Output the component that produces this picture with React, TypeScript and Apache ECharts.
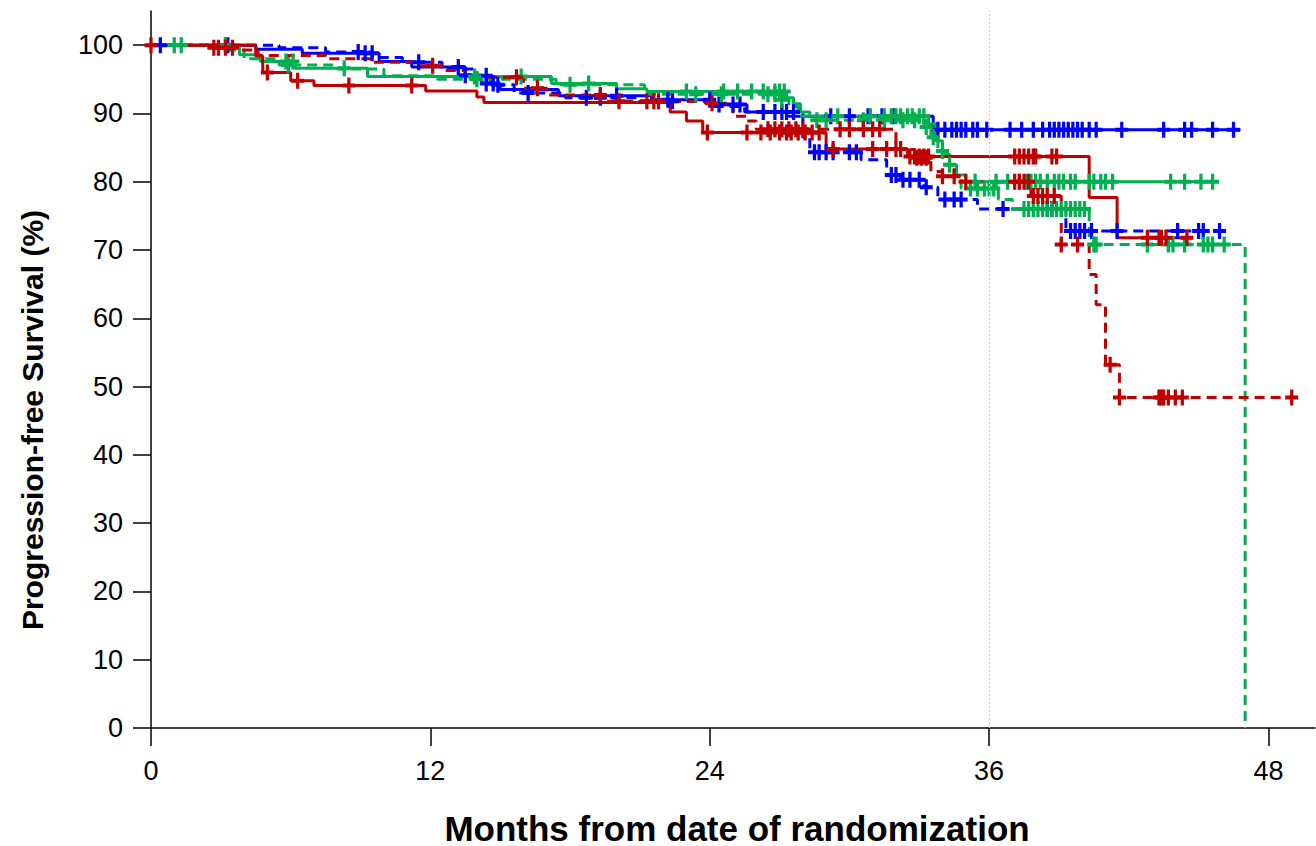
import React, { useEffect, useRef } from "react";
import * as echarts from "echarts";

const xTicks = [0, 12, 24, 36, 48];
const yTicks = [0, 10, 20, 30, 40, 50, 60, 70, 80, 90, 100];
const xTitle = "Months from date of randomization";
const yTitle = "Progression-free Survival (%)";

// Blue solid
const blueSolidTimes = [0, 4.5, 6.5, 9.8, 11.2, 13.5, 14.2, 15.0, 17.5, 21.5, 24.2, 25.6, 27.3, 33.6];
const blueSolidSurv = [100, 99.4, 98.8, 97.6, 96.8, 95.6, 94.4, 93.5, 92.6, 92.0, 91.3, 90.2, 89.6, 87.6];
const blueSolidEnd = 46.8;
const blueSolidCensor = [0.4, 3.3, 9.2, 9.5, 13.2, 13.5, 14.4, 14.7, 20.0, 22.2, 24.0, 24.4, 25.0, 25.3, 26.3, 26.8, 27.1, 29.2, 30.0, 30.8, 31.4, 31.9, 33.8, 34.1, 34.4, 34.6, 34.8, 35.0, 35.3, 35.5, 35.9, 36.9, 37.4, 37.9, 38.3, 38.6, 38.8, 39.0, 39.2, 39.4, 39.6, 39.8, 40.0, 40.3, 40.6, 41.7, 43.5, 44.4, 44.7, 45.6, 46.5];

// Blue dashed
const blueDashTimes = [0, 5.5, 7.5, 9.5, 10.8, 12.5, 14.0, 14.6, 15.6, 17.8, 21.0, 24.0, 25.5, 28.0, 28.3, 30.5, 31.6, 32.2, 33.2, 33.8, 35.5, 39.3];
const blueDashSurv = [100, 99.6, 99.0, 98.2, 97.5, 96.5, 95.5, 94.2, 93.0, 92.3, 91.8, 91.0, 90.2, 86.5, 84.3, 83.2, 81.0, 80.3, 79.2, 77.4, 76.0, 72.8];
const blueDashEnd = 46.2;
const blueDashCensor = [3.2, 8.9, 11.5, 14.4, 14.9, 16.2, 18.7, 19.3, 22.4, 27.3, 27.6, 28.5, 28.7, 29.0, 29.3, 30.0, 30.3, 31.8, 32.0, 32.3, 32.6, 33.0, 33.3, 34.1, 34.5, 34.8, 36.6, 38.5, 38.7, 39.5, 39.7, 39.9, 40.1, 40.4, 41.5, 44.1, 45.0, 45.2, 45.9];

// Green solid
const greenSolidTimes = [0, 3.8, 4.7, 6.2, 9.3, 17.2, 20.0, 21.3, 27.3, 27.6, 27.9, 28.3, 33.4, 33.7, 34.0, 34.3, 34.6, 35.0];
const greenSolidSurv = [100, 98.6, 97.6, 96.6, 95.4, 94.4, 93.6, 93.2, 92.3, 91.4, 90.2, 89.6, 88.5, 86.0, 84.0, 82.5, 81.0, 80.0];
const greenSolidEnd = 45.8;
const greenSolidCensor = [1.3, 3.2, 5.8, 6.1, 8.3, 13.9, 15.9, 18.8, 23.0, 24.6, 25.2, 25.8, 26.3, 26.8, 27.0, 27.2, 29.5, 30.9, 31.5, 31.8, 32.0, 32.2, 32.5, 32.7, 33.0, 33.2, 35.4, 36.3, 36.8, 37.3, 37.6, 37.8, 38.0, 38.2, 38.5, 38.8, 39.0, 39.2, 39.5, 39.7, 40.3, 40.5, 40.8, 41.0, 41.3, 43.8, 44.4, 45.1, 45.6];

// Green dashed
const greenDashTimes = [0, 3.0, 4.0, 5.5, 8.0, 10.0, 12.3, 17.4, 21.2, 27.0, 27.4, 27.8, 28.4, 33.2, 33.5, 33.8, 34.1, 34.5, 34.8, 36.4, 37.0, 40.3, 47.0];
const greenDashSurv = [100, 99.3, 98.0, 97.1, 96.5, 95.5, 95.0, 94.2, 92.8, 92.0, 91.0, 89.6, 89.0, 88.0, 86.5, 84.5, 82.5, 80.5, 79.0, 77.4, 76.0, 70.8, 0];
const greenDashEnd = 47.0;
const greenDashCensor = [1.0, 5.9, 14.0, 18.0, 23.4, 24.5, 26.5, 26.8, 27.1, 28.6, 29.0, 30.6, 31.5, 32.3, 32.8, 33.3, 33.6, 34.0, 34.3, 35.2, 35.5, 35.8, 36.0, 36.2, 37.5, 37.7, 37.9, 38.1, 38.3, 38.5, 38.7, 38.9, 39.1, 39.3, 39.5, 39.7, 39.9, 40.1, 40.5, 40.6, 42.8, 43.7, 43.9, 44.4, 45.2, 45.4, 45.6, 46.1];

// Red solid
const redSolidTimes = [0, 4.5, 4.8, 6.0, 7.0, 11.8, 14.0, 14.3, 22.3, 23.0, 23.7, 29.0, 32.5, 40.3, 41.5];
const redSolidSurv = [100, 98.4, 96.0, 94.8, 94.1, 93.3, 92.4, 91.6, 90.2, 88.9, 87.2, 84.8, 83.7, 77.7, 71.8];
const redSolidEnd = 44.7;
const redSolidCensor = [5.0, 6.3, 8.5, 11.2, 23.9, 25.6, 26.2, 26.6, 27.0, 27.3, 27.5, 27.8, 28.1, 28.4, 28.7, 29.3, 31.0, 31.6, 32.0, 32.2, 32.6, 32.8, 33.0, 33.2, 33.4, 37.1, 37.3, 37.5, 37.7, 37.9, 38.0, 38.7, 38.9, 42.8, 43.3, 43.4, 43.6, 44.5];

// Red dashed
const redDashTimes = [0, 2.5, 3.7, 4.6, 7.5, 9.5, 11.5, 12.5, 13.5, 16.0, 17.0, 19.5, 23.8, 25.0, 25.6, 26.0, 32.0, 32.8, 33.5, 34.0, 34.6, 37.8, 39.1, 40.3, 40.6, 41.0, 41.6];
const redDashSurv = [100, 99.6, 99.3, 98.5, 98.0, 97.5, 97.0, 96.3, 95.3, 93.7, 92.7, 91.8, 91.5, 89.6, 88.9, 87.7, 84.7, 83.5, 81.5, 80.8, 80.0, 77.9, 70.8, 66.4, 62.0, 53.2, 48.4];
const redDashEnd = 49.2;
const redDashCensor = [0.0, 2.7, 2.9, 3.2, 3.5, 12.1, 15.7, 16.6, 19.3, 20.1, 21.3, 21.6, 21.8, 24.1, 26.5, 26.8, 27.1, 27.4, 27.7, 28.0, 29.6, 30.0, 30.6, 31.0, 31.3, 32.9, 33.1, 33.3, 34.0, 34.5, 35.0, 37.1, 37.3, 37.5, 37.7, 37.9, 38.1, 38.3, 38.5, 38.8, 39.1, 39.8, 41.2, 41.6, 43.3, 43.4, 43.5, 43.7, 44.0, 44.3, 49.0];

const BLUE = "#0000ff";
const GREEN = "#00b050";
const RED = "#c00000";

const PLUS = "path://M4.5,0 h3 v4.5 h4.5 v3 h-4.5 v4.5 h-3 v-4.5 h-4.5 v-3 h4.5 z";

function survAt(times: number[], surv: number[], t: number) {
  let v = surv[0];
  for (let i = 0; i < times.length; i++) if (times[i] <= t) v = surv[i];
  return v;
}

function makeSeries(times: number[], surv: number[], end: number, censor: number[], color: string, dashed: boolean) {
  const data: number[][] = times.map((t, i) => [t, surv[i]]);
  if (end > times[times.length - 1]) data.push([end, surv[surv.length - 1]]);
  const line: any = {
    type: "line",
    step: "end",
    data,
    showSymbol: false,
    symbol: "none",
    silent: true,
    lineStyle: { color, width: 3, type: dashed ? [10, 6] : "solid" },
    z: 2,
  };
  const marks: any = {
    type: "scatter",
    data: censor.map((t) => [t, survAt(times, surv, t)]),
    symbol: PLUS,
    symbolSize: [13, 16],
    symbolKeepAspect: false,
    itemStyle: { color, opacity: 1 },
    silent: true,
    z: 3,
  };
  return [line, marks];
}

export default function App() {
  const ref = useRef<HTMLDivElement>(null);
  useEffect(() => {
    if (!ref.current) return;
    const chart = echarts.init(ref.current, null, { renderer: "svg" });
    const series: any[] = [
      ...makeSeries(blueSolidTimes, blueSolidSurv, blueSolidEnd, blueSolidCensor, BLUE, false),
      ...makeSeries(blueDashTimes, blueDashSurv, blueDashEnd, blueDashCensor, BLUE, true),
      ...makeSeries(greenSolidTimes, greenSolidSurv, greenSolidEnd, greenSolidCensor, GREEN, false),
      ...makeSeries(greenDashTimes, greenDashSurv, greenDashEnd, greenDashCensor, GREEN, true),
      ...makeSeries(redSolidTimes, redSolidSurv, redSolidEnd, redSolidCensor, RED, false),
      ...makeSeries(redDashTimes, redDashSurv, redDashEnd, redDashCensor, RED, true),
    ];
    series[0].markLine = {
      silent: true,
      symbol: ["none", "none"],
      label: { show: false },
      lineStyle: { color: "#c8c8c8", type: [2, 2], width: 1 },
      data: [{ xAxis: 36 }],
    };
    chart.setOption({
      animation: false,
      backgroundColor: "#ffffff",
      grid: { left: 151, right: 1, top: 11, bottom: 118 },
      xAxis: {
        type: "value",
        min: 0,
        max: 50,
        axisLine: { show: true, onZero: false, lineStyle: { color: "#000", width: 1.5 } },
        axisTick: { show: true, length: 18, customValues: xTicks, lineStyle: { color: "#000", width: 1.5 } },
        axisLabel: { customValues: xTicks, color: "#000", fontSize: 27, fontFamily: "Liberation Sans, Arial, sans-serif", margin: 29 },
        splitLine: { show: false },
      },
      yAxis: {
        type: "value",
        min: 0,
        max: 105,
        axisLine: { show: true, onZero: false, lineStyle: { color: "#000", width: 1.5 } },
        axisTick: { show: true, length: 18, customValues: yTicks, lineStyle: { color: "#000", width: 1.5 } },
        axisLabel: { customValues: yTicks, color: "#000", fontSize: 27, fontFamily: "Liberation Sans, Arial, sans-serif", margin: 28 },
        splitLine: { show: false },
      },
      graphic: [
        {
          type: "text",
          x: 737,
          y: 828,
          style: {
            text: xTitle,
            fill: "#000",
            font: "bold 35px 'Liberation Sans', Arial, sans-serif",
            textAlign: "center",
            textVerticalAlign: "middle",
          },
        },
        {
          type: "text",
          x: 32,
          y: 420,
          rotation: Math.PI / 2,
          style: {
            text: yTitle,
            fill: "#000",
            font: "bold 30px 'Liberation Sans', Arial, sans-serif",
            textAlign: "center",
            textVerticalAlign: "middle",
          },
        },
      ],
      series,
    });
    return () => chart.dispose();
  }, []);
  return <div ref={ref} style={{ position: "fixed", left: 0, top: 0, width: 1316, height: 846 }} />;
}
